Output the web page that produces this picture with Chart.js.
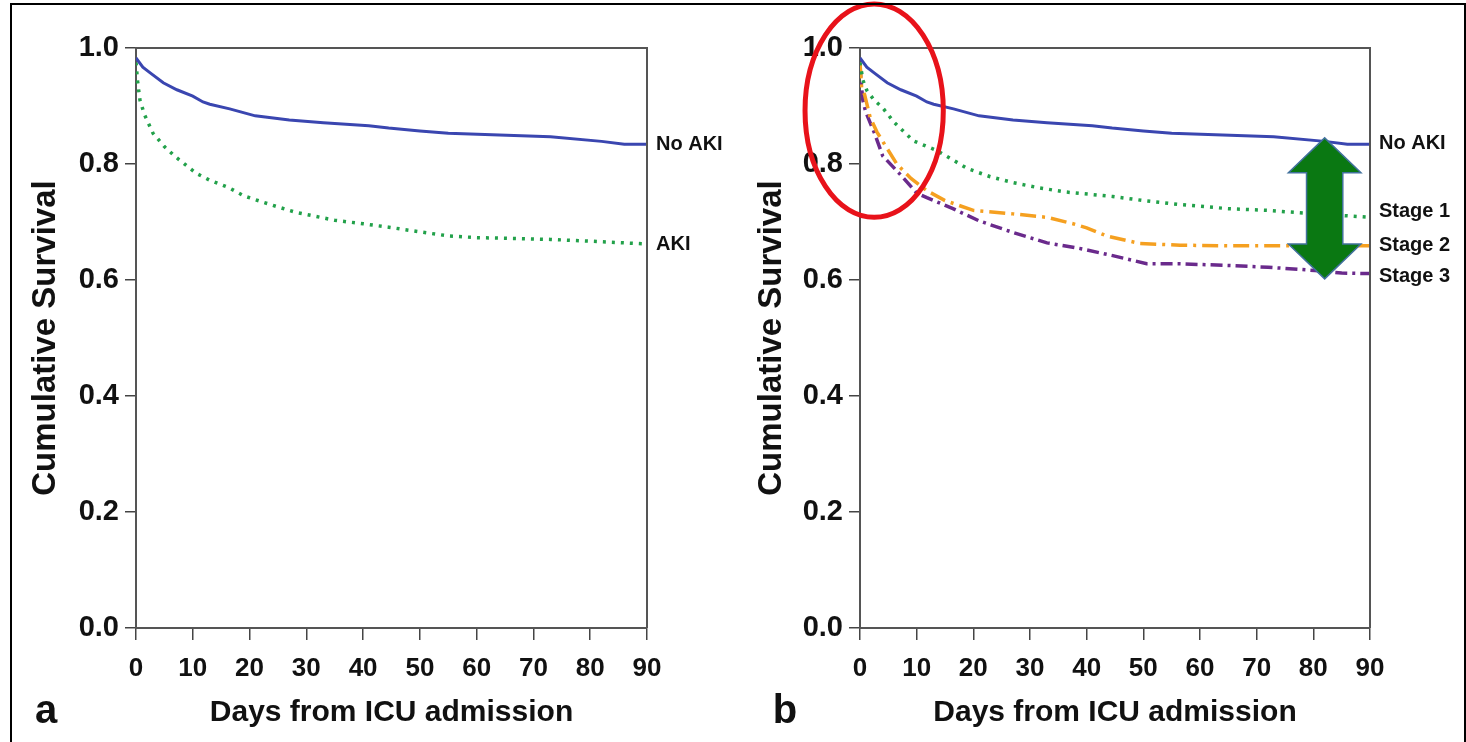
<!DOCTYPE html>
<html lang="en">

<head>
    <meta charset="utf-8">
    <title>Cumulative survival by AKI status</title>
    <script src="https://cdn.jsdelivr.net/npm/chart.js"></script>
    <style>
        body { margin: 0; background: #fff; }
        .panel { position: absolute; top: 0; width: 733px; height: 742px; }
        #frame {
            position: absolute; left: 10px; top: 3px; width: 1452px; height: 760px;
            border: 2px solid #000; pointer-events: none;
        }
    </style>
</head>

<body>
    <div class="panel" style="left:0"><canvas id="chartA"></canvas></div>
    <div class="panel" style="left:733px"><canvas id="chartB"></canvas></div>
    <div id="frame"></div>

    <script>
        // x axis ticks (days)
        const dayTicks = [0, 10, 20, 30, 40, 50, 60, 70, 80, 90];

        // No AKI (same curve in both panels)
        const noAkiDays = [0, 1.2, 2.5, 4.8, 7.2, 10, 11.8, 13, 16.5, 21, 27, 33, 41, 44.5, 50, 55, 64, 73, 82, 86, 90];
        const noAkiSurv = [0.983, 0.967, 0.957, 0.94, 0.928, 0.917, 0.907, 0.903, 0.895, 0.883, 0.876, 0.871, 0.866, 0.862, 0.857, 0.853, 0.85, 0.847, 0.839, 0.834, 0.834];

        // AKI (panel a)
        const akiDays = [0, 0.3, 0.7, 1.5, 3, 5, 7, 10.6, 13, 16.4, 19, 22.4, 25, 28, 31, 35, 40, 44.5, 50, 55, 60, 65, 73, 82, 90];
        const akiSurv = [0.975, 0.94, 0.91, 0.885, 0.853, 0.83, 0.812, 0.784, 0.772, 0.759, 0.745, 0.734, 0.726, 0.717, 0.711, 0.703, 0.697, 0.691, 0.683, 0.676, 0.673, 0.672, 0.67, 0.666, 0.662];

        // AKI stages (panel b)
        const stage1Days = [0, 0.5, 1.2, 2.5, 4, 6, 9.4, 13.6, 19, 23, 27, 31, 36, 44.6, 50, 56.5, 65, 72, 77.6, 84, 90];
        const stage1Surv = [0.975, 0.945, 0.927, 0.91, 0.897, 0.872, 0.84, 0.823, 0.792, 0.778, 0.768, 0.76, 0.752, 0.744, 0.737, 0.73, 0.723, 0.72, 0.716, 0.712, 0.708];

        const stage2Days = [0, 0.3, 0.8, 1.8, 3, 4.7, 6.5, 9, 11.8, 15, 20, 27, 33, 37.6, 40, 43.5, 49.4, 56.5, 65, 75, 90];
        const stage2Surv = [0.975, 0.93, 0.92, 0.88, 0.855, 0.828, 0.8, 0.775, 0.754, 0.737, 0.72, 0.714, 0.708, 0.697, 0.69, 0.676, 0.663, 0.66, 0.659, 0.659, 0.659];

        const stage3Days = [0, 0.2, 0.5, 1, 2.6, 4, 7, 10, 11.8, 16.4, 21, 27, 33, 39, 44.6, 50.6, 56.5, 65, 72, 81, 85, 90];
        const stage3Surv = [0.97, 0.94, 0.91, 0.89, 0.852, 0.814, 0.783, 0.75, 0.742, 0.723, 0.702, 0.682, 0.664, 0.654, 0.642, 0.628, 0.628, 0.625, 0.622, 0.616, 0.612, 0.611];

        // end labels to the right of each panel
        const labelsA = ['No AKI', 'AKI'];
        const labelsAAt = [0.834, 0.662];
        const labelsB = ['No AKI', 'Stage 1', 'Stage 2', 'Stage 3'];
        const labelsBAt = [0.836, 0.718, 0.66, 0.606];

        const FONT = '"Liberation Sans", Arial, Helvetica, sans-serif';

        const pts = (days, surv) => days.map((d, i) => ({ x: d, y: surv[i] }));

        const curve = (days, surv, color, dash) => ({
            data: pts(days, surv),
            borderColor: color,
            borderWidth: dash.length ? 3.5 : 3,
            borderDash: dash,
            pointRadius: 0,
            tension: 0,
            fill: false
        });

        // box, end labels, panel letter, and the call-outs on panel b
        const panelDeco = {
            id: 'panelDeco',
            afterDraw(chart, args, opts) {
                const ctx = chart.ctx;
                const a = chart.chartArea;
                const xs = chart.scales.x, ys = chart.scales.y;
                ctx.save();
                ctx.strokeStyle = '#555';
                ctx.lineWidth = 2;
                ctx.beginPath();
                ctx.moveTo(a.left, a.top);
                ctx.lineTo(a.right, a.top);
                ctx.lineTo(a.right, a.bottom);
                ctx.stroke();

                ctx.fillStyle = '#111';
                ctx.font = 'bold 20px ' + FONT;
                ctx.textBaseline = 'middle';
                ctx.textAlign = 'left';
                opts.labels.forEach((t, i) => {
                    ctx.fillText(t, a.right + 9, ys.getPixelForValue(opts.labelsAt[i]));
                });

                ctx.font = 'bold 40px ' + FONT;
                ctx.textAlign = 'center';
                ctx.fillText(opts.letter, opts.letterX, 712);

                if (opts.ellipse) {
                    const e = opts.ellipse;
                    const cx = xs.getPixelForValue(e.day), cy = ys.getPixelForValue(e.surv);
                    const rx = xs.getPixelForValue(e.day + e.dDay) - cx;
                    const ry = ys.getPixelForValue(e.surv - e.dSurv) - cy;
                    ctx.strokeStyle = '#e8121a';
                    ctx.lineWidth = 5;
                    ctx.beginPath();
                    ctx.ellipse(cx, cy, rx, ry, 0, 0, Math.PI * 2);
                    ctx.stroke();
                }

                if (opts.arrow) {
                    const r = opts.arrow;
                    const cx = xs.getPixelForValue(r.day);
                    const hw = xs.getPixelForValue(r.day + r.headDays) - cx;
                    const sw = xs.getPixelForValue(r.day + r.shaftDays) - cx;
                    const yT = ys.getPixelForValue(r.top), yB = ys.getPixelForValue(r.bottom);
                    const hl = ys.getPixelForValue(r.top - r.headSurv) - yT;
                    ctx.beginPath();
                    ctx.moveTo(cx, yT);
                    ctx.lineTo(cx + hw, yT + hl);
                    ctx.lineTo(cx + sw, yT + hl);
                    ctx.lineTo(cx + sw, yB - hl);
                    ctx.lineTo(cx + hw, yB - hl);
                    ctx.lineTo(cx, yB);
                    ctx.lineTo(cx - hw, yB - hl);
                    ctx.lineTo(cx - sw, yB - hl);
                    ctx.lineTo(cx - sw, yT + hl);
                    ctx.lineTo(cx - hw, yT + hl);
                    ctx.closePath();
                    ctx.fillStyle = '#0a7812';
                    ctx.fill();
                    ctx.strokeStyle = '#41719c';
                    ctx.lineWidth = 1.5;
                    ctx.stroke();
                }
                ctx.restore();
            }
        };

        function makeOptions(pad, yWidth, deco) {
            return {
                responsive: true,
                maintainAspectRatio: false,
                animation: false,
                layout: { padding: pad },
                plugins: { legend: { display: false }, tooltip: { enabled: false }, panelDeco: deco },
                scales: {
                    x: {
                        type: 'linear', min: 0, max: 90,
                        afterBuildTicks: s => { s.ticks = dayTicks.map(v => ({ value: v })); },
                        afterFit: s => { s.height = 104; },
                        border: { color: '#555', width: 2 },
                        grid: { drawOnChartArea: false, tickLength: 12, color: '#444', lineWidth: 1.5 },
                        ticks: { color: '#111', padding: 13, font: { family: FONT, size: 26, weight: 'bold' } },
                        title: {
                            display: true, text: 'Days from ICU admission', color: '#111',
                            padding: { top: 0, bottom: 1 },
                            font: { family: FONT, size: 30, weight: 'bold' }
                        }
                    },
                    y: {
                        min: 0, max: 1,
                        afterFit: s => { s.width = yWidth; },
                        border: { color: '#555', width: 2 },
                        grid: { drawOnChartArea: false, tickLength: 11, color: '#444', lineWidth: 1.5 },
                        ticks: {
                            stepSize: 0.2, color: '#111', padding: 6,
                            font: { family: FONT, size: 29, weight: 'bold' },
                            callback: v => v.toFixed(1)
                        },
                        title: {
                            display: true, text: 'Cumulative Survival', color: '#111',
                            padding: { top: 0, bottom: 0 },
                            font: { family: FONT, size: 33, weight: 'bold' }
                        }
                    }
                }
            };
        }

        const BLUE = '#3a46b0', GREEN = '#22a14a', ORANGE = '#f5a020', PURPLE = '#6a2a8c';

        new Chart(document.getElementById('chartA'), {
            type: 'line',
            data: {
                datasets: [
                    curve(noAkiDays, noAkiSurv, BLUE, []),
                    curve(akiDays, akiSurv, GREEN, [3, 6])
                ]
            },
            options: makeOptions({ left: 26, top: 48, right: 86, bottom: 10 }, 110,
                { labels: labelsA, labelsAt: labelsAAt, letter: 'a', letterX: 46 }),
            plugins: [panelDeco]
        });

        new Chart(document.getElementById('chartB'), {
            type: 'line',
            data: {
                datasets: [
                    curve(noAkiDays, noAkiSurv, BLUE, []),
                    curve(stage1Days, stage1Surv, GREEN, [3, 6]),
                    curve(stage2Days, stage2Surv, ORANGE, [16, 6, 3, 6]),
                    curve(stage3Days, stage3Surv, PURPLE, [12, 5, 3, 5])
                ]
            },
            options: makeOptions({ left: 19, top: 48, right: 96, bottom: 10 }, 108, {
                labels: labelsB, labelsAt: labelsBAt, letter: 'b', letterX: 52,
                ellipse: { day: 2.5, surv: 0.892, dDay: 12.2, dSurv: 0.184 },
                arrow: { day: 82, top: 0.845, bottom: 0.602, headDays: 6.4, shaftDays: 3.2, headSurv: 0.06 }
            }),
            plugins: [panelDeco]
        });
    </script>
</body>

</html>
